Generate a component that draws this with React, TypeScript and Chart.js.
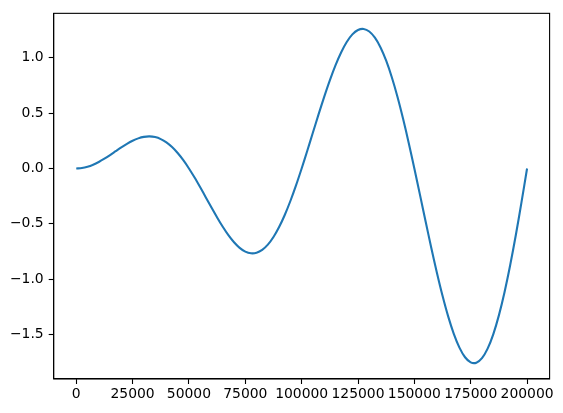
import React, { useEffect, useRef } from "react";
import { Chart, registerables } from "chart.js";

Chart.register(...registerables);

const xValues = [
  0, 2500, 5000, 7500, 10000, 12500, 15000, 17500, 20000, 22500,
  25000, 27500, 30000, 32500, 35000, 37500, 40000, 42500, 45000, 47500,
  50000, 52500, 55000, 57500, 60000, 62500, 65000, 67500, 70000, 72500,
  75000, 77500, 80000, 82500, 85000, 87500, 90000, 92500, 95000, 97500,
  100000, 102500, 105000, 107500, 110000, 112500, 115000, 117500, 120000, 122500,
  125000, 127500, 130000, 132500, 135000, 137500, 140000, 142500, 145000, 147500,
  150000, 152500, 155000, 157500, 160000, 162500, 165000, 167500, 170000, 172500,
  175000, 177500, 180000, 182500, 185000, 187500, 190000, 192500, 195000, 197500,
  200000,
];

const yValues = [
  0, 0.0039, 0.0155, 0.0341, 0.0588, 0.0884, 0.1214, 0.1559, 0.1902, 0.2222,
  0.25, 0.2716, 0.2853, 0.2896, 0.2832, 0.2652, 0.2351, 0.193, 0.1391, 0.0743,
  0, -0.0821, -0.17, -0.2611, -0.3527, -0.4419, -0.5259, -0.6014, -0.6657, -0.7161,
  -0.75, -0.7655, -0.7608, -0.7351, -0.6877, -0.6187, -0.529, -0.42, -0.2936, -0.1525,
  0, 0.1603, 0.3245, 0.4881, 0.6466, 0.7955, 0.9304, 1.0469, 1.1413, 1.2099,
  1.25, 1.2593, 1.2364, 1.1806, 1.0922, 0.9723, 0.8229, 0.647, 0.4481, 0.2307,
  0, -0.2385, -0.479, -0.7151, -0.9405, -1.149, -1.3349, -1.4924, -1.6169, -1.7038,
  -1.75, -1.7532, -1.712, -1.6261, -1.4967, -1.3258, -1.1168, -0.874, -0.6026, -0.3089,
  0,
];

const xTicks = [0, 25000, 50000, 75000, 100000, 125000, 150000, 175000, 200000];
const yTicks = [-1.5, -1.0, -0.5, 0.0, 0.5, 1.0];

const FONT = { family: "'DejaVu Sans', sans-serif", size: 13.9 };

const framePlugin = {
  id: "frame",
  afterDraw(chart: any) {
    const { ctx, chartArea } = chart;
    ctx.save();
    ctx.strokeStyle = "#000";
    ctx.lineWidth = 1.1;
    ctx.strokeRect(
      chartArea.left,
      chartArea.top,
      chartArea.right - chartArea.left,
      chartArea.bottom - chartArea.top
    );
    ctx.restore();
  },
};

export default function App() {
  const ref = useRef<HTMLCanvasElement | null>(null);

  useEffect(() => {
    document.body.style.margin = "0";
    if (!ref.current) return;
    const chart = new Chart(ref.current, {
      type: "line",
      data: {
        datasets: [
          {
            data: xValues.map((x, i) => ({ x, y: yValues[i] })),
            borderColor: "#1f77b4",
            borderWidth: 2.1,
            pointRadius: 0,
            tension: 0.3,
            fill: false,
          },
        ],
      },
      options: {
        animation: false,
        responsive: false,
        maintainAspectRatio: false,
        devicePixelRatio: 1,
        layout: { padding: { left: 0, right: 13.4, top: 10.3, bottom: 0 } },
        plugins: { legend: { display: false }, tooltip: { enabled: false } },
        scales: {
          x: {
            type: "linear",
            min: -10000,
            max: 210000,
            afterBuildTicks: (scale: any) => {
              scale.ticks = xTicks.map((v) => ({ value: v }));
            },
            afterFit: (scale: any) => {
              scale.height = 34;
            },
            grid: {
              display: true,
              drawOnChartArea: false,
              drawTicks: true,
              tickLength: 5,
              tickWidth: 1.1,
              tickColor: "#000",
            },
            border: { display: true, color: "#000", width: 1.1 },
            ticks: {
              color: "#000",
              font: FONT,
              padding: 2,
              maxRotation: 0,
              autoSkip: false,
              callback: (v: any) => String(v),
            },
          },
          y: {
            type: "linear",
            min: -1.9,
            max: 1.4,
            afterBuildTicks: (scale: any) => {
              scale.ticks = yTicks.map((v) => ({ value: v }));
            },
            afterFit: (scale: any) => {
              scale.width = 53.7;
            },
            grid: {
              display: true,
              drawOnChartArea: false,
              drawTicks: true,
              tickLength: 5,
              tickWidth: 1.1,
              tickColor: "#000",
            },
            border: { display: true, color: "#000", width: 1.1 },
            ticks: {
              color: "#000",
              font: FONT,
              padding: 5,
              autoSkip: false,
              callback: (v: any) => Number(v).toFixed(1).replace("-", "\u2212"),
            },
          },
        },
      },
      plugins: [framePlugin],
    } as any);
    return () => chart.destroy();
  }, []);

  return (
    <div style={{ width: 563, height: 413 }}>
      <canvas ref={ref} width={563} height={413} style={{ display: "block" }} />
    </div>
  );
}
